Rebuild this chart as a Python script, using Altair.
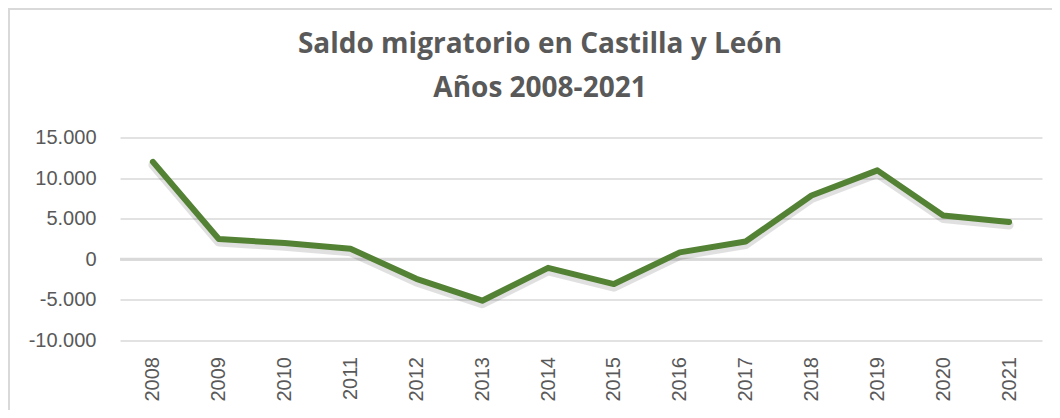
import altair as alt
import pandas as pd

years = ["2008", "2009", "2010", "2011", "2012", "2013", "2014",
         "2015", "2016", "2017", "2018", "2019", "2020", "2021"]
saldo = [12000, 2500, 2000, 1300, -2400, -5100, -1050,
         -3050, 850, 2200, 7850, 10950, 5400, 4600]
y_ticks = [-10000, -5000, 0, 5000, 10000, 15000]

title_lines = ["Saldo migratorio en Castilla y León", "Años 2008-2021"]

df = pd.DataFrame({"year": years, "saldo": saldo})

TEXT = "#595959"
GRID = "#d9d9d9"
GREEN = "#548235"

x_axis = alt.Axis(title=None, labelAngle=-90, labelFont="Liberation Sans",
                  labelFontSize=20, labelColor=TEXT, ticks=False,
                  domain=False, labelPadding=16, labelBaseline="middle",
                  labelAlign="right", grid=False)
y_axis = alt.Axis(title=None, values=y_ticks,
                  labelExpr="replace(replace(format(datum.value, ','), ',', '.'), '\u2212', '-')",
                  labelFont="Liberation Sans", labelFontSize=20,
                  labelColor=TEXT, ticks=False, domain=False,
                  labelPadding=24, grid=True, gridColor=GRID,
                  gridWidth=1.3)
x_scale = alt.Scale(padding=0.5)
y_scale = alt.Scale(domain=[-10000, 15000], nice=False)

base = alt.Chart(df)

line = base.mark_line(color=GREEN, strokeWidth=6, strokeCap="round",
                      strokeJoin="round").encode(
    x=alt.X("year:O", sort=years, scale=x_scale, axis=x_axis),
    y=alt.Y("saldo:Q", scale=y_scale, axis=y_axis),
)

shadow = base.transform_calculate(saldo="datum.saldo - 380").mark_line(
    color="#000000", opacity=0.12, strokeWidth=9, strokeCap="round",
    strokeJoin="round").encode(
    x=alt.X("year:O", sort=years, scale=x_scale, axis=x_axis),
    y=alt.Y("saldo:Q", scale=y_scale, axis=y_axis),
)

zero = alt.Chart(pd.DataFrame({"saldo": [0]})).mark_rule(
    color=GRID, strokeWidth=3).encode(
    y=alt.Y("saldo:Q", scale=y_scale, axis=y_axis))

one = pd.DataFrame({"b": [0]})
border = alt.Chart(one).mark_rect(
    fill="transparent", stroke=GRID, strokeWidth=2, clip=False).encode(
    x=alt.value(-111), x2=alt.value(1200),
    y=alt.value(-128.5), y2=alt.value(500))

title1 = alt.Chart(one).mark_text(
    font="Open Sans", fontSize=28, fontWeight="bold", color=TEXT,
    align="center", baseline="alphabetic").encode(
    x=alt.value(420), y=alt.value(-84.5), text=alt.value(title_lines[0]))
title2 = alt.Chart(one).mark_text(
    font="Open Sans", fontSize=28, fontWeight="bold", color=TEXT,
    align="center", baseline="alphabetic").encode(
    x=alt.value(420), y=alt.value(-40.5), text=alt.value(title_lines[1]))

chart = alt.layer(border, zero, shadow, line, title1, title2).properties(
    width=922, height=203,
    autosize="none",
    padding={"left": 112, "top": 129.5, "right": 10, "bottom": 69.5},
).configure(
    view=alt.ViewConfig(stroke=None),
)

chart.save("out.html", embed_options={"renderer": "svg", "actions": False})
